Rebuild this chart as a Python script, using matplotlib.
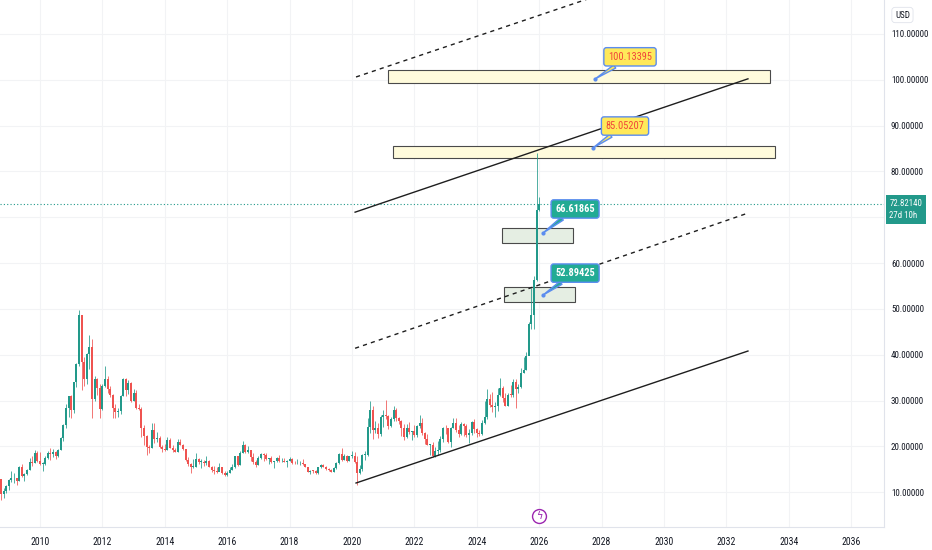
import numpy as np
import matplotlib
matplotlib.use("Agg")
import matplotlib.pyplot as plt
from matplotlib import font_manager as fm
from matplotlib.patches import Rectangle
from matplotlib.transforms import blended_transform_factory

# narrow face if the machine has one, else Roboto
have = {f.name for f in fm.fontManager.ttflist}
narrow = next((n for n in ['Roboto Condensed', 'Liberation Sans Narrow',
                           'PT Sans Narrow', 'Archivo Narrow', 'Open Sans Condensed']
               if n in have), 'Roboto')
plt.rcParams['font.family'] = [narrow, 'DejaVu Sans']

# monthly candles, Oct 2008 .. Jan 2026
first_open = 12.9
closes = [
    9.7, 10.2, 11.3,
    12.6, 13.0, 13.1, 12.4, 15.6, 13.6, 13.9, 14.9, 16.6, 16.3, 18.6, 16.9,
    16.2, 16.2, 17.5, 18.6, 18.4, 18.7, 18.0, 19.3, 21.8, 24.6, 28.3, 30.9,
    27.9, 34.0, 37.9, 48.6, 38.3, 34.8, 40.1, 41.6, 30.4, 34.8, 32.7, 28.2,
    33.1, 34.6, 32.5, 31.1, 28.4, 27.5, 27.7, 31.0, 34.6, 32.3, 33.8, 30.0,
    31.7, 28.4, 28.2, 24.0, 22.3, 19.8, 19.7, 23.6, 21.7, 21.9, 19.9, 19.4,
    19.2, 21.3, 19.7, 19.1, 18.7, 21.0, 20.4, 19.4, 17.1, 16.2, 15.5, 15.6,
    17.2, 16.6, 16.6, 16.3, 16.8, 15.6, 14.8, 14.6, 14.5, 15.5, 14.1, 13.8,
    14.2, 14.9, 15.4, 17.8, 16.0, 18.6, 20.4, 18.7, 19.2, 17.7, 16.5, 15.9,
    17.5, 18.4, 18.2, 17.2, 17.4, 16.6, 16.7, 17.4, 16.7, 16.7, 16.5, 16.9,
    17.3, 16.4, 16.3, 16.3, 16.4, 16.1, 15.5, 14.5, 14.7, 14.6, 14.1, 15.5,
    16.0, 15.6, 15.1, 14.9, 14.5, 15.3, 16.4, 18.4, 17.0, 18.0, 16.9, 17.9,
    18.0, 16.5, 14.2, 15.0, 18.2, 18.2, 24.3, 28.0, 23.6, 23.9, 22.6, 26.4,
    26.9, 26.7, 24.5, 25.9, 27.9, 26.1, 25.5, 24.0, 22.0, 24.0, 23.1, 23.3,
    22.4, 24.4, 25.1, 23.0, 21.6, 20.3, 20.3, 17.8, 19.0, 19.1, 21.5, 24.0,
    23.9, 21.0, 24.1, 25.0, 23.6, 22.8, 24.9, 24.4, 22.4, 22.9, 25.3, 23.8,
    23.0, 22.7, 25.1, 26.3, 30.4, 29.1, 28.6, 28.9, 31.2, 32.7, 30.6, 28.9,
    31.3, 31.2, 34.1, 32.6, 33.0, 36.1, 36.7, 39.7, 46.6, 48.7, 56.4, 71.5,
    72.8214,
]
highs = [
    12.2, 10.9, 11.6,
    12.9, 14.6, 14.1, 13.1, 15.7, 16.2, 14.2, 15.0, 17.5, 18.0, 19.2, 19.0,
    18.8, 16.6, 17.8, 19.0, 19.6, 19.4, 18.9, 19.5, 22.1, 24.8, 29.3, 31.0,
    31.2, 34.1, 38.2, 49.8, 48.6, 39.4, 40.4, 44.2, 43.5, 35.3, 35.0, 33.5,
    33.7, 37.5, 35.4, 33.2, 31.5, 29.3, 28.3, 31.1, 35.0, 34.9, 34.5, 34.0,
    32.5, 32.4, 29.2, 28.6, 24.6, 22.5, 20.4, 25.1, 25.0, 23.1, 22.2, 20.3,
    20.5, 22.0, 21.9, 20.4, 19.7, 21.6, 21.6, 20.5, 19.5, 17.6, 16.4, 17.3,
    18.5, 17.4, 17.3, 17.0, 17.8, 17.0, 15.7, 15.7, 15.4, 16.4, 15.6, 14.6,
    14.6, 15.6, 16.1, 18.0, 17.9, 18.9, 21.1, 20.5, 20.1, 19.3, 18.6, 17.1,
    17.9, 18.5, 18.5, 18.6, 17.5, 17.8, 16.9, 17.6, 18.2, 17.4, 17.4, 17.1,
    17.7, 17.4, 16.9, 17.3, 16.8, 17.3, 16.2, 15.6, 14.9, 14.9, 14.8, 15.6,
    16.2, 16.1, 15.8, 15.3, 15.0, 15.5, 16.5, 18.6, 19.7, 18.3, 18.2, 18.0,
    18.9, 18.8, 17.8, 15.9, 18.4, 18.9, 26.2, 29.9, 28.9, 25.6, 25.0, 26.8,
    27.9, 30.1, 26.8, 26.3, 28.7, 28.3, 26.4, 25.8, 24.9, 24.8, 25.4, 23.4,
    24.7, 24.7, 26.9, 26.2, 23.1, 22.6, 20.5, 20.9, 19.8, 21.2, 22.2, 24.3,
    24.6, 24.1, 24.2, 26.1, 26.1, 24.6, 25.3, 25.0, 24.8, 23.8, 25.5, 25.9,
    24.0, 23.5, 25.8, 29.8, 32.5, 31.5, 31.8, 29.7, 32.7, 34.9, 33.2, 31.7,
    31.7, 33.4, 34.6, 34.6, 33.7, 37.0, 39.5, 40.6, 47.2, 54.5, 57.1, 84.0,
    74.5,
]
lows = [
    8.4, 8.8, 9.9,
    10.5, 12.2, 12.1, 11.6, 12.4, 13.4, 12.5, 13.8, 14.8, 15.8, 16.3, 16.6,
    16.0, 14.6, 16.0, 17.2, 17.0, 17.7, 17.3, 17.6, 19.3, 21.2, 24.1, 26.5,
    26.2, 27.3, 32.9, 37.6, 32.3, 33.1, 33.5, 36.9, 26.1, 29.9, 31.1, 26.2,
    27.9, 33.0, 31.6, 30.7, 26.1, 26.1, 26.4, 27.1, 30.9, 31.0, 31.4, 29.6,
    29.8, 28.1, 27.9, 22.0, 20.4, 18.2, 18.6, 19.6, 20.8, 21.0, 19.6, 18.8,
    19.0, 19.1, 19.7, 18.7, 18.7, 18.7, 20.3, 19.2, 16.9, 15.8, 14.2, 15.2,
    15.4, 16.1, 15.3, 15.7, 15.9, 15.5, 14.4, 13.9, 14.2, 14.6, 13.9, 13.6,
    13.6, 14.1, 14.8, 15.2, 15.8, 15.9, 18.5, 18.6, 18.6, 16.7, 16.1, 15.6,
    15.9, 17.3, 16.8, 17.1, 16.1, 16.4, 15.2, 16.6, 16.6, 16.5, 16.5, 15.6,
    16.9, 16.1, 16.1, 16.1, 16.0, 16.0, 15.4, 14.4, 13.9, 14.2, 13.9, 14.0,
    15.3, 15.5, 14.9, 14.7, 14.3, 14.3, 15.0, 16.2, 16.9, 17.1, 16.6, 16.8,
    17.4, 16.4, 11.6, 13.9, 14.6, 17.0, 17.9, 23.0, 21.6, 22.9, 21.9, 22.2,
    24.3, 26.0, 23.8, 24.2, 25.6, 25.6, 24.9, 22.3, 21.4, 21.9, 22.6, 21.4,
    22.1, 22.0, 24.0, 22.5, 20.5, 20.2, 18.2, 17.6, 17.6, 18.1, 18.8, 21.0,
    22.8, 20.7, 19.9, 24.0, 23.2, 22.1, 22.5, 22.3, 22.0, 20.7, 22.5, 22.9,
    22.0, 22.3, 22.5, 24.8, 26.0, 28.6, 27.5, 26.5, 27.7, 31.0, 29.7, 28.7,
    28.8, 30.8, 30.7, 28.3, 31.7, 32.7, 35.9, 36.6, 40.1, 45.6, 45.6, 56.0,
    71.4,
]

# drawings (year, price)
channel_solid = [((2020.13, 12.0), (2032.69, 40.8)),
                 ((2020.10, 71.1), (2032.69, 100.2))]
channel_dashed = [((2020.10, 41.4), (2032.69, 70.9)),
                  ((2020.13, 100.6), (2032.69, 129.4))]
zones_yellow = [(2021.15, 2033.40, 99.3, 102.1),
                (2021.31, 2033.56, 82.9, 85.5)]
zones_green = [(2024.81, 2027.08, 64.4, 67.6),
               (2024.87, 2027.15, 51.5, 54.8)]
callouts = [  # label, target, text position, style
    ("100.13395", (2027.79, 100.17), (2028.91, 105.0), "yellow"),
    ("85.05207", (2027.72, 85.10), (2028.75, 89.9), "yellow"),
    ("66.61865", (2026.12, 66.55), (2027.15, 71.8), "teal"),
    ("52.89425", (2026.12, 53.00), (2027.15, 57.8), "teal"),
]
last_price = 72.8214
countdown = "27d 10h"
year_ticks = list(range(2010, 2037, 2))
grid_prices = list(range(10, 111, 10))
price_ticks = [10, 20, 30, 40, 50, 60, 80, 90, 100, 110]  # 70 sits under the badge

UP, DOWN = '#22998a', '#ef5350'
GRID = '#f2f3f5'

closes = np.array(closes)
highs = np.array(highs)
lows = np.array(lows)
opens = np.concatenate([[first_open], closes[:-1]])
x = 2008.75 + np.arange(len(closes)) / 12.0
cols = np.where(closes >= opens, UP, DOWN)

fig = plt.figure(figsize=(9.32, 5.5), dpi=100)
ax = fig.add_axes([0, 23 / 550, 884 / 932, 527 / 550])
ax.set_xlim(2008.72, 2037.05)
ax.set_ylim(2.4, 117.4)

for yv in grid_prices:
    ax.axhline(yv, color=GRID, lw=0.8, zorder=0)
for xv in year_ticks:
    ax.axvline(xv, color=GRID, lw=0.8, zorder=0)

# candles
ax.vlines(x, lows, highs, colors=cols, lw=0.7, alpha=0.8, zorder=2)
body = np.maximum(np.abs(closes - opens), 0.15)
ax.bar(x, body, bottom=np.minimum(opens, closes), width=0.066,
       color=cols, linewidth=0, zorder=2)

# zones
for x0, x1, y0, y1 in zones_yellow:
    ax.add_patch(Rectangle((x0, y0), x1 - x0, y1 - y0, fc='#fffbdc',
                           ec='#4a4a4a', lw=0.8, zorder=1))
for x0, x1, y0, y1 in zones_green:
    ax.add_patch(Rectangle((x0, y0), x1 - x0, y1 - y0, fc='#e5eee3',
                           ec='#4a4a4a', lw=0.8, zorder=1))

# channel lines
for (a, b) in channel_solid:
    ax.plot([a[0], b[0]], [a[1], b[1]], color='#1e1e1e', lw=1.0, zorder=3)
for (a, b) in channel_dashed:
    ax.plot([a[0], b[0]], [a[1], b[1]], color='#1e1e1e', lw=1.0,
            ls=(0, (3, 3)), zorder=3)

# callouts
for label, target, pos, style in callouts:
    if style == "yellow":
        fc, tc, fw = '#ffe95a', '#f0453a', 'normal'
    else:
        fc, tc, fw = '#22ab94', 'white', 'bold'
    ax.annotate(label, xy=target, xytext=pos, ha='center', va='center',
                fontsize=7.5, color=tc, fontweight=fw,
                bbox=dict(boxstyle='round,pad=0.4,rounding_size=0.25',
                          fc=fc, ec='#5b8def', lw=1.0),
                arrowprops=dict(arrowstyle='wedge,tail_width=0.35',
                                fc=fc, ec='#5b8def', lw=1.0,
                                shrinkA=0, shrinkB=0),
                zorder=5)
    ax.plot(*target, 'o', ms=2, color='#5b8def', zorder=6)

# last price line
ax.axhline(last_price, color='#22998a', lw=0.8, ls=(0, (1, 2)), zorder=1)

# lightning event marker
ax.plot(2026.0, 4.8, 'o', ms=10, mfc='white', mec='#9c27b0', mew=1.0,
        zorder=6, clip_on=False)
ax.text(2026.0, 4.8, 'ϟ', color='#9c27b0', fontsize=7, ha='center',
        va='center', family='DejaVu Sans', zorder=7)

# axes styling
for s in ['left', 'top']:
    ax.spines[s].set_visible(False)
for s in ['right', 'bottom']:
    ax.spines[s].set_color('#e0e3eb')
ax.set_xticks(year_ticks)
ax.set_xticklabels([str(v) for v in year_ticks])
ax.yaxis.tick_right()
ax.set_yticks(price_ticks)
ax.set_yticklabels([f"{v:.5f}" for v in price_ticks])
ax.tick_params(axis='x', length=0, pad=7, labelsize=7, labelcolor='#131722')
ax.tick_params(axis='y', length=0, pad=5, labelsize=6.5, labelcolor='#131722')

# last price badge on scale
tr = blended_transform_factory(ax.transAxes, ax.transData)
ax.add_patch(Rectangle((1.002, last_price - 4.2), 0.046, 6.3, transform=tr,
                       fc='#22998a', ec='none', clip_on=False, zorder=8))
ax.text(1.006, last_price - 1.1, f"{last_price:.5f}\n{countdown}", transform=tr,
        color='white', fontsize=6.3, va='center', ha='left', linespacing=1.35,
        zorder=9)

fig.text(895 / 932, 1 - 15 / 550, "USD", fontsize=6.5, color='#131722',
         va='center', ha='left',
         bbox=dict(boxstyle='round,pad=0.35', fc='white', ec='#e0e3eb', lw=0.6))

fig.savefig("out.png", dpi=100)
